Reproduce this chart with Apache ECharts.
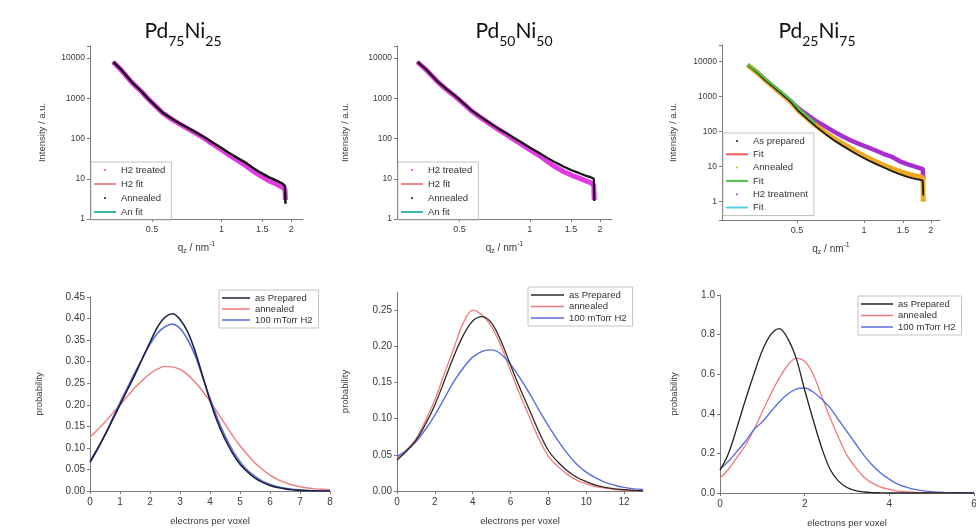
<!DOCTYPE html>
<html>
<head>
<meta charset="utf-8">
<script src="https://cdn.jsdelivr.net/npm/echarts@6/dist/echarts.min.js"></script>
<style>
  html, body { margin: 0; padding: 0; background: #fff; }
  #chart { width: 976px; height: 531px; }
</style>
</head>
<body>
<div id="chart"></div>
<script>
// ---------- SAXS intensity curves (q in nm^-1, intensity in a.u.) ----------
const qPd75 = [0.34, 0.37, 0.41, 0.45, 0.48, 0.52, 0.56, 0.61, 0.66, 0.72, 0.78, 0.85, 0.91, 1.0, 1.07, 1.16, 1.26, 1.36, 1.47, 1.6, 1.74, 1.84, 1.88, 1.885, 1.89];
const pd75Annealed = [8100, 5000, 2500, 1500, 1000, 640, 430, 310, 236, 180, 140, 105, 81, 58, 45, 34, 26, 19, 14.4, 11, 8.9, 7.5, 6.7, 4, 2.4];
const pd75H2 = [8000, 4900, 2450, 1480, 990, 630, 420, 300, 228, 172, 132, 98, 75, 53, 40, 30, 22, 16, 12, 9, 7.2, 6, 5.5, 4, 3];

const qPd50 = [0.33, 0.36, 0.405, 0.44, 0.476, 0.52, 0.563, 0.61, 0.665, 0.72, 0.78, 0.85, 0.92, 1.0, 1.09, 1.18, 1.28, 1.4, 1.52, 1.62, 1.73, 1.82, 1.88, 1.885, 1.89];
const pd50Annealed = [8100, 5200, 2560, 1700, 1190, 760, 500, 360, 256, 190, 144, 106, 81, 60, 45, 34, 26, 20, 16, 14, 12, 11, 10, 5, 2.8];
const pd50H2 = [8000, 5100, 2500, 1650, 1150, 740, 485, 345, 245, 180, 134, 97, 73, 53, 39, 28, 20, 15, 12, 10.5, 9, 8, 7, 4, 3];

const qPd25 = [0.30, 0.33, 0.36, 0.40, 0.43, 0.47, 0.51, 0.566, 0.61, 0.673, 0.73, 0.80, 0.87, 0.95, 1.04, 1.13, 1.23, 1.34, 1.46, 1.59, 1.70, 1.80, 1.84, 1.845, 1.85];
const pd25Prepared = [8000, 5000, 3000, 1700, 1150, 700, 380, 210, 140, 85, 58, 40, 29, 21, 15.5, 12, 9.5, 7.5, 6, 5, 4.5, 4.2, 4, 2.5, 1.5];
const pd25Annealed = [8000, 5000, 3000, 1700, 1150, 700, 390, 220, 148, 92, 66, 46, 34, 24.5, 18, 14, 11, 8.8, 7.2, 6.1, 5.5, 5.1, 4.9, 3, 1];
const pd25H2 = [8000, 5000, 3000, 1700, 1170, 730, 450, 280, 200, 140, 102, 74, 57, 45, 36, 29, 23, 19, 14, 11.5, 10, 9, 8.5, 6, 4];
const qPd25AnFit = [0.30, 0.33, 0.36, 0.40, 0.43, 0.47, 0.51, 0.566, 0.61];
const pd25AnFit = [8300, 5400, 3300, 1900, 1300, 800, 450, 250, 170];

const qTicks = [0.5, 1, 1.5, 2];

// ---------- electron-count distributions ----------
const epv75 = [0, 0.25, 0.5, 0.75, 1, 1.25, 1.5, 1.75, 2, 2.25, 2.5, 2.75, 3, 3.25, 3.5, 3.75, 4, 4.25, 4.5, 4.75, 5, 5.25, 5.5, 5.75, 6, 6.25, 6.5, 6.75, 7, 7.25, 7.5, 7.75, 8];
const dist75Prepared = [0.068, 0.098, 0.13, 0.165, 0.20, 0.235, 0.27, 0.308, 0.345, 0.38, 0.403, 0.411, 0.398, 0.37, 0.325, 0.268, 0.21, 0.16, 0.12, 0.088, 0.062, 0.044, 0.03, 0.02, 0.013, 0.008, 0.005, 0.003, 0.0015, 0.0008, 0.0003, 0.0001, 0];
const dist75Annealed = [0.125, 0.142, 0.16, 0.18, 0.20, 0.22, 0.24, 0.257, 0.272, 0.283, 0.289, 0.288, 0.282, 0.27, 0.253, 0.232, 0.208, 0.182, 0.155, 0.129, 0.105, 0.084, 0.065, 0.05, 0.037, 0.027, 0.02, 0.014, 0.01, 0.007, 0.005, 0.004, 0.003];
const dist75H2 = [0.065, 0.097, 0.13, 0.168, 0.205, 0.24, 0.275, 0.308, 0.34, 0.366, 0.381, 0.387, 0.377, 0.352, 0.315, 0.265, 0.215, 0.168, 0.128, 0.095, 0.068, 0.048, 0.034, 0.023, 0.015, 0.01, 0.006, 0.004, 0.002, 0.001, 0.0005, 0.0002, 0];

const epv50 = [0, 0.5, 1, 1.5, 2, 2.5, 3, 3.5, 4, 4.5, 5, 5.5, 6, 6.5, 7, 7.5, 8, 8.5, 9, 9.5, 10, 10.5, 11, 11.5, 12, 12.5, 13];
const dist50Prepared = [0.043, 0.055, 0.07, 0.092, 0.119, 0.152, 0.186, 0.215, 0.235, 0.241, 0.232, 0.207, 0.174, 0.142, 0.112, 0.082, 0.056, 0.04, 0.028, 0.019, 0.013, 0.008, 0.005, 0.003, 0.002, 0.001, 0];
const dist50Annealed = [0.045, 0.057, 0.072, 0.097, 0.126, 0.162, 0.197, 0.232, 0.25, 0.243, 0.227, 0.2, 0.166, 0.133, 0.102, 0.072, 0.048, 0.034, 0.023, 0.015, 0.01, 0.006, 0.004, 0.002, 0.001, 0.0005, 0];
const dist50H2 = [0.048, 0.056, 0.068, 0.085, 0.105, 0.128, 0.151, 0.17, 0.185, 0.193, 0.195, 0.189, 0.175, 0.156, 0.135, 0.112, 0.09, 0.07, 0.052, 0.037, 0.026, 0.018, 0.012, 0.008, 0.005, 0.003, 0.002];

const epv25 = [0, 0.2, 0.4, 0.6, 0.8, 1.0, 1.2, 1.4, 1.6, 1.8, 2.0, 2.2, 2.4, 2.6, 2.8, 3.0, 3.2, 3.4, 3.6, 3.8, 4.0, 4.2, 4.4, 4.6, 4.8, 5.0, 5.2, 5.4, 5.6, 5.8, 6.0];
const dist25Prepared = [0.115, 0.2, 0.33, 0.47, 0.6, 0.72, 0.8, 0.83, 0.78, 0.68, 0.52, 0.37, 0.23, 0.12, 0.06, 0.028, 0.012, 0.005, 0.002, 0.001, 0, 0, 0, 0, 0, 0, 0, 0, 0, 0, 0];
const dist25Annealed = [0.075, 0.12, 0.18, 0.24, 0.32, 0.41, 0.5, 0.58, 0.645, 0.68, 0.665, 0.6, 0.49, 0.38, 0.28, 0.19, 0.13, 0.08, 0.05, 0.03, 0.018, 0.01, 0.006, 0.003, 0.002, 0.001, 0, 0, 0, 0, 0];
const dist25H2 = [0.12, 0.16, 0.21, 0.26, 0.32, 0.36, 0.41, 0.46, 0.5, 0.525, 0.53, 0.51, 0.475, 0.43, 0.37, 0.31, 0.25, 0.19, 0.14, 0.1, 0.07, 0.045, 0.03, 0.018, 0.011, 0.006, 0.004, 0.002, 0.001, 0, 0];

// ---------- helpers ----------
const FONT = "'Liberation Sans', Arial, sans-serif";
const TITLE_FONT = "Lato, 'Open Sans', sans-serif";
const AXIS_COLOR = '#7a7a7a';
const LABEL_COLOR = '#3a3a3a';

const pairs = (xs, ys) => xs.map((x, i) => [x, ys[i]]);

function curve(name, gi, xs, ys, color, width, extra) {
  return Object.assign({
    type: 'line', name: name, xAxisIndex: gi, yAxisIndex: gi,
    data: pairs(xs, ys), symbol: 'none', showSymbol: false,
    color: color, itemStyle: { color: color },
    lineStyle: { color: color, width: width },
    silent: true, animation: false
  }, extra || {});
}
const SMOOTH = { smooth: 0.35, smoothConstraint: false };

const isDecade = v => {
  const l = Math.log10(v);
  return Math.abs(l - Math.round(l)) < 1e-6;
};

const axisLine = { show: true, lineStyle: { color: AXIS_COLOR, width: 1 } };

function logQAxis(gi, min, max) {
  return {
    type: 'log', gridIndex: gi, min: min, max: max, logBase: 10,
    axisLine: axisLine,
    axisTick: { show: true, length: 3, customValues: qTicks, lineStyle: { color: AXIS_COLOR } },
    axisLabel: { customValues: qTicks, fontSize: 9, color: LABEL_COLOR, margin: 6, fontFamily: FONT,
                 formatter: v => String(+v.toFixed(2)) },
    splitLine: { show: false }, minorTick: { show: false },
    name: '{t|q}{sub|z}{t| / nm}{sup|-1}', nameLocation: 'middle', nameGap: 22,
    nameTextStyle: {
      rich: {
        t: { fontSize: 10, color: LABEL_COLOR, fontFamily: FONT, lineHeight: 14 },
        sub: { fontSize: 7, color: LABEL_COLOR, fontFamily: FONT, verticalAlign: 'bottom', lineHeight: 8 },
        sup: { fontSize: 7, color: LABEL_COLOR, fontFamily: FONT, verticalAlign: 'top', lineHeight: 8 }
      }
    }
  };
}

function logIAxis(gi, min, max, gap) {
  return {
    type: 'log', gridIndex: gi, min: min, max: max, logBase: 10,
    axisLine: axisLine,
    axisTick: { show: true, length: 3, lineStyle: { color: AXIS_COLOR } },
    axisLabel: { fontSize: 8.5, color: LABEL_COLOR, margin: 5, fontFamily: FONT,
                 formatter: v => isDecade(v) ? String(Math.round(v)) : '' },
    splitLine: { show: false },
    name: 'Intensity / a.u.', nameLocation: 'middle', nameGap: gap, nameRotate: 90,
    nameTextStyle: { fontSize: 9.5, color: LABEL_COLOR, fontFamily: FONT }
  };
}

function valXAxis(gi, max, interval) {
  return {
    type: 'value', gridIndex: gi, min: 0, max: max, interval: interval,
    axisLine: axisLine,
    axisTick: { show: true, length: 3, lineStyle: { color: AXIS_COLOR } },
    axisLabel: { fontSize: 10, color: LABEL_COLOR, margin: 6, fontFamily: FONT, showMaxLabel: max % interval === 0 },
    splitLine: { show: false },
    name: 'electrons per voxel', nameLocation: 'middle', nameGap: 25,
    nameTextStyle: { fontSize: 9.5, color: LABEL_COLOR, fontFamily: FONT }
  };
}

function probAxis(gi, max, interval, digits, gap) {
  return {
    type: 'value', gridIndex: gi, min: 0, max: max, interval: interval,
    axisLine: axisLine,
    axisTick: { show: true, length: 3, lineStyle: { color: AXIS_COLOR } },
    axisLabel: { fontSize: 10, color: LABEL_COLOR, margin: 5, fontFamily: FONT,
                 showMaxLabel: Math.abs(max / interval - Math.round(max / interval)) < 1e-9,
                 formatter: v => v.toFixed(digits) },
    splitLine: { show: false },
    name: 'probability', nameLocation: 'middle', nameGap: gap, nameRotate: 90,
    nameTextStyle: { fontSize: 9.5, color: LABEL_COLOR, fontFamily: FONT }
  };
}

function titleFor(center, a, b) {
  return {
    text: '{m|Pd}{s|' + a + '}{m|Ni}{s|' + b + '}',
    left: center, top: 15, textAlign: 'center', padding: 0,
    textStyle: {
      rich: {
        m: { fontSize: 21, color: '#111', fontFamily: TITLE_FONT, fontWeight: 'normal', lineHeight: 33 },
        s: { fontSize: 14, color: '#111', fontFamily: TITLE_FONT, fontWeight: 'normal', verticalAlign: 'bottom', lineHeight: 12 }
      }
    }
  };
}

function legendBox(left, top, names, icons, opts) {
  return Object.assign({
    orient: 'vertical', left: left, top: top,
    itemWidth: 22, itemHeight: 2, itemGap: 4,
    padding: [3, 6, 3, 3], borderColor: '#b5b5b5', borderWidth: 0.8,
    backgroundColor: 'rgba(255,255,255,0)',
    selectedMode: false,
    textStyle: { fontSize: 9.5, color: '#333', fontFamily: FONT, lineHeight: 10 },
    formatter: n => n.split('#')[0],
    data: names.map((n, i) => ({ name: n, icon: icons[i] }))
  }, opts || {});
}

const smallLegendText = { fontSize: 9.5, color: '#333', fontFamily: FONT, lineHeight: 10 };
const gridBase = { containLabel: false, outerBoundsMode: 'none', show: false };

const option = {
  backgroundColor: '#ffffff',
  animation: false,
  textStyle: { fontFamily: FONT },
  title: [titleFor(183, '75', '25'), titleFor(514, '50', '50'), titleFor(817, '25', '75')],
  grid: [
    Object.assign({ left: 90, top: 46, width: 213, height: 173 }, gridBase),
    Object.assign({ left: 397, top: 46, width: 215, height: 173 }, gridBase),
    Object.assign({ left: 722, top: 45, width: 218, height: 175 }, gridBase),
    Object.assign({ left: 90, top: 297, width: 240, height: 194 }, gridBase),
    Object.assign({ left: 397, top: 292, width: 246, height: 199 }, gridBase),
    Object.assign({ left: 720, top: 295, width: 254, height: 198 }, gridBase)
  ],
  xAxis: [
    logQAxis(0, 0.27, 2.25),
    logQAxis(1, 0.27, 2.25),
    logQAxis(2, 0.23, 2.2),
    valXAxis(3, 8, 1),
    valXAxis(4, 13, 2),
    valXAxis(5, 6, 2)
  ],
  yAxis: [
    logIAxis(0, 1, 20000, 43),
    logIAxis(1, 1, 20000, 47),
    logIAxis(2, 0.3, 30000, 44),
    probAxis(3, 0.45, 0.05, 2, 46),
    probAxis(4, 0.275, 0.05, 2, 47),
    probAxis(5, 1.0, 0.2, 1, 41)
  ],
  legend: [
    legendBox(91, 162, ['H2 treated#1', 'H2 fit#1', 'Annealed#1', 'An fit#1'], ['circle', 'rect', 'circle', 'rect']),
    legendBox(398, 162, ['H2 treated#2', 'H2 fit#2', 'Annealed#2', 'An fit#2'], ['circle', 'rect', 'circle', 'rect']),
    legendBox(723, 133, ['As prepared#3', 'Fit#3a', 'Annealed#3', 'Fit#3b', 'H2 treatment#3', 'Fit#3c'],
      ['circle', 'rect', 'circle', 'rect', 'circle', 'rect'], { itemGap: 3.3 }),
    legendBox(219, 290, ['as Prepared#4', 'annealed#4', '100 mTorr H2#4'], ['rect', 'rect', 'rect'],
      { itemWidth: 28, itemHeight: 1.5, itemGap: 1, textStyle: smallLegendText }),
    legendBox(528, 287, ['as Prepared#5', 'annealed#5', '100 mTorr H2#5'], ['rect', 'rect', 'rect'],
      { itemWidth: 33, itemHeight: 1.5, itemGap: 1.5, textStyle: smallLegendText }),
    legendBox(858, 296, ['as Prepared#6', 'annealed#6', '100 mTorr H2#6'], ['rect', 'rect', 'rect'],
      { itemWidth: 32, itemHeight: 1.5, itemGap: 1.5, textStyle: smallLegendText })
  ],
  series: [
    // Pd75Ni25 scattering
    curve('H2 fit#1', 0, qPd75, pd75H2, '#f08a8a', 1.2),
    curve('An fit#1', 0, qPd75, pd75Annealed, '#3cb8a8', 1.2),
    curve('H2 treated#1', 0, qPd75, pd75H2, '#e23ae0', 5),
    curve('Annealed#1', 0, qPd75, pd75Annealed, '#161616', 2.4),
    // Pd50Ni50 scattering
    curve('H2 fit#2', 1, qPd50, pd50H2, '#f08a8a', 1.2),
    curve('An fit#2', 1, qPd50, pd50Annealed, '#3cb8a8', 1.2),
    curve('H2 treated#2', 1, qPd50, pd50H2, '#e23ae0', 5),
    curve('Annealed#2', 1, qPd50, pd50Annealed, '#161616', 2.2),
    // Pd25Ni75 scattering
    curve('Fit#3c', 2, qPd25, pd25H2, '#55d0e0', 1.5),
    curve('Fit#3a', 2, qPd25, pd25Prepared, '#e85a5a', 1.5),
    curve('H2 treatment#3', 2, qPd25, pd25H2, '#a62fcf', 4.5),
    curve('Annealed#3', 2, qPd25, pd25Annealed, '#eeaa1c', 5),
    curve('As prepared#3', 2, qPd25, pd25Prepared, '#1c1c1c', 1.8),
    curve('Fit#3b', 2, qPd25AnFit, pd25AnFit, '#4cc04c', 2.2),
    // electron distributions
    curve('annealed#4', 3, epv75, dist75Annealed, '#f07a7a', 1.4, SMOOTH),
    curve('100 mTorr H2#4', 3, epv75, dist75H2, '#5a6ee0', 1.6, SMOOTH),
    curve('as Prepared#4', 3, epv75, dist75Prepared, '#1e1e3c', 1.6, SMOOTH),
    curve('annealed#5', 4, epv50, dist50Annealed, '#f07a7a', 1.3, SMOOTH),
    curve('100 mTorr H2#5', 4, epv50, dist50H2, '#5a6ee0', 1.4, SMOOTH),
    curve('as Prepared#5', 4, epv50, dist50Prepared, '#2a2a2a', 1.3, SMOOTH),
    curve('annealed#6', 5, epv25, dist25Annealed, '#f07a7a', 1.3, SMOOTH),
    curve('100 mTorr H2#6', 5, epv25, dist25H2, '#5a6ee0', 1.4, SMOOTH),
    curve('as Prepared#6', 5, epv25, dist25Prepared, '#222222', 1.3, SMOOTH)
  ]
};

const chart = echarts.init(document.getElementById('chart'), null, { renderer: 'canvas' });
chart.setOption(option);
</script>
</body>
</html>
